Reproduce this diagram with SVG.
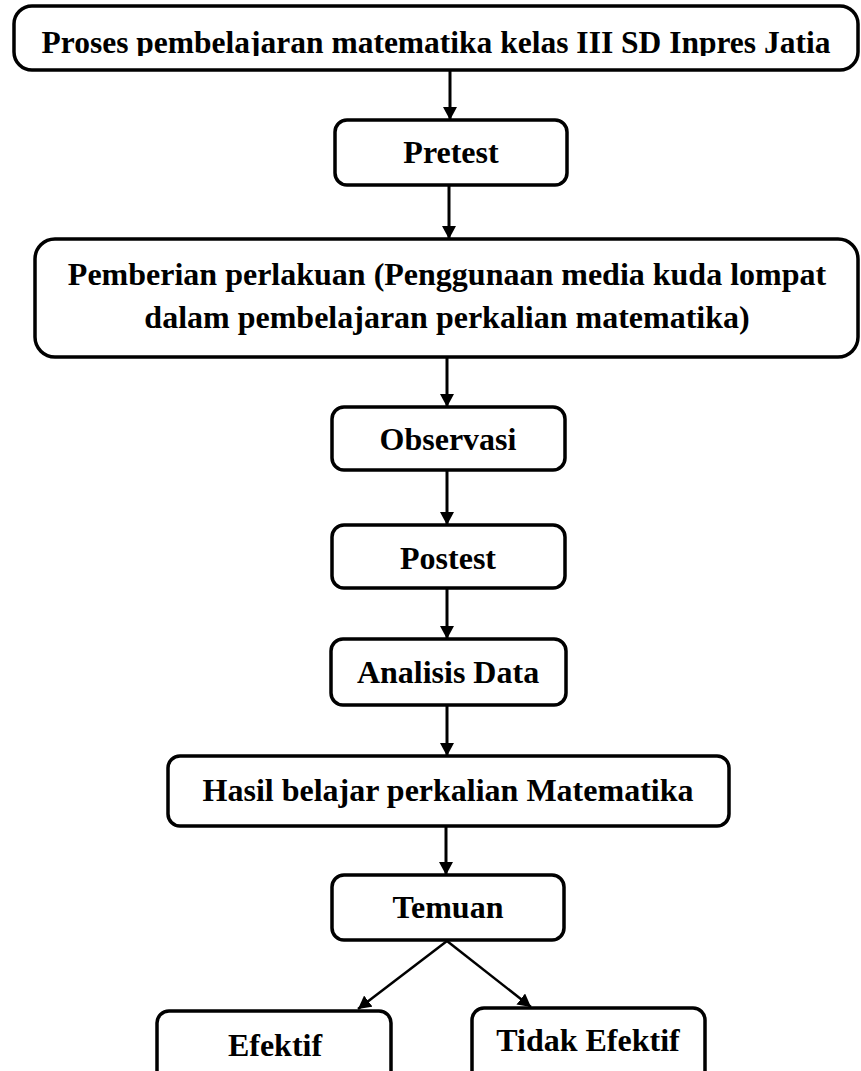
<svg xmlns="http://www.w3.org/2000/svg" width="861" height="1071" viewBox="0 0 861 1071">
  <style>
    .box { fill: #ffffff; stroke: #000000; stroke-width: 3.5; }
    .lbl { font-family: "Liberation Serif", "Times New Roman", serif; font-weight: bold; font-size: 32px; fill: #000000; text-anchor: middle; }
    .conn { stroke: #000000; stroke-width: 3; fill: none; }
    .diag { stroke: #000000; stroke-width: 2.5; fill: none; }
  </style>
  <defs>
    <marker id="arrow" markerUnits="userSpaceOnUse" markerWidth="14" markerHeight="14" refX="13" refY="7" orient="auto">
      <path d="M0,0 L13,7 L0,14 z" fill="#000000"/>
    </marker>
    <clipPath id="topclip">
      <rect x="14" y="6" width="844" height="50"/>
    </clipPath>
  </defs>
  <rect width="861" height="1071" fill="#ffffff"/>

  <g id="connectors">
    <line class="conn" x1="450" y1="71" x2="450" y2="120" marker-end="url(#arrow)"/>
    <line class="conn" x1="449" y1="186" x2="449" y2="239" marker-end="url(#arrow)"/>
    <line class="conn" x1="447" y1="358" x2="447" y2="407" marker-end="url(#arrow)"/>
    <line class="conn" x1="447" y1="471" x2="447" y2="525" marker-end="url(#arrow)"/>
    <line class="conn" x1="447" y1="589" x2="447" y2="639" marker-end="url(#arrow)"/>
    <line class="conn" x1="447" y1="706" x2="447" y2="756" marker-end="url(#arrow)"/>
    <line class="conn" x1="446" y1="827" x2="446" y2="875" marker-end="url(#arrow)"/>
    <line class="diag" x1="447" y1="941" x2="358" y2="1009" marker-end="url(#arrow)"/>
    <line class="diag" x1="447" y1="941" x2="531" y2="1007" marker-end="url(#arrow)"/>
  </g>

  <g id="node-proses">
    <rect class="box" x="14" y="6" width="844" height="64" rx="18"/>
    <text class="lbl" x="436" y="53" clip-path="url(#topclip)" style="font-size:31.5px">Proses pembelajaran matematika kelas III SD Inpres Jatia</text>
  </g>
  <g id="node-pretest">
    <rect class="box" x="335" y="120" width="232" height="65" rx="12"/>
    <text class="lbl" x="451" y="163">Pretest</text>
  </g>
  <g id="node-pemberian">
    <rect class="box" x="35" y="239" width="823" height="118" rx="20"/>
    <text class="lbl" x="447" y="285">Pemberian perlakuan (Penggunaan media kuda lompat</text>
    <text class="lbl" x="447" y="328">dalam pembelajaran perkalian matematika)</text>
  </g>
  <g id="node-observasi">
    <rect class="box" x="332" y="407" width="233" height="63" rx="12"/>
    <text class="lbl" x="448" y="450">Observasi</text>
  </g>
  <g id="node-postest">
    <rect class="box" x="332" y="525" width="233" height="63" rx="12"/>
    <text class="lbl" x="448" y="569">Postest</text>
  </g>
  <g id="node-analisis">
    <rect class="box" x="331" y="639" width="235" height="66" rx="12"/>
    <text class="lbl" x="448" y="683">Analisis Data</text>
  </g>
  <g id="node-hasil">
    <rect class="box" x="168" y="756" width="561" height="70" rx="12"/>
    <text class="lbl" x="448" y="801">Hasil belajar perkalian Matematika</text>
  </g>
  <g id="node-temuan">
    <rect class="box" x="332" y="875" width="232" height="65" rx="12"/>
    <text class="lbl" x="448" y="918">Temuan</text>
  </g>
  <g id="node-efektif">
    <rect class="box" x="157" y="1011" width="234" height="80" rx="12"/>
    <text class="lbl" x="275" y="1056">Efektif</text>
  </g>
  <g id="node-tidak-efektif">
    <rect class="box" x="472" y="1008" width="233" height="80" rx="12"/>
    <text class="lbl" x="588" y="1051">Tidak Efektif</text>
  </g>
</svg>
